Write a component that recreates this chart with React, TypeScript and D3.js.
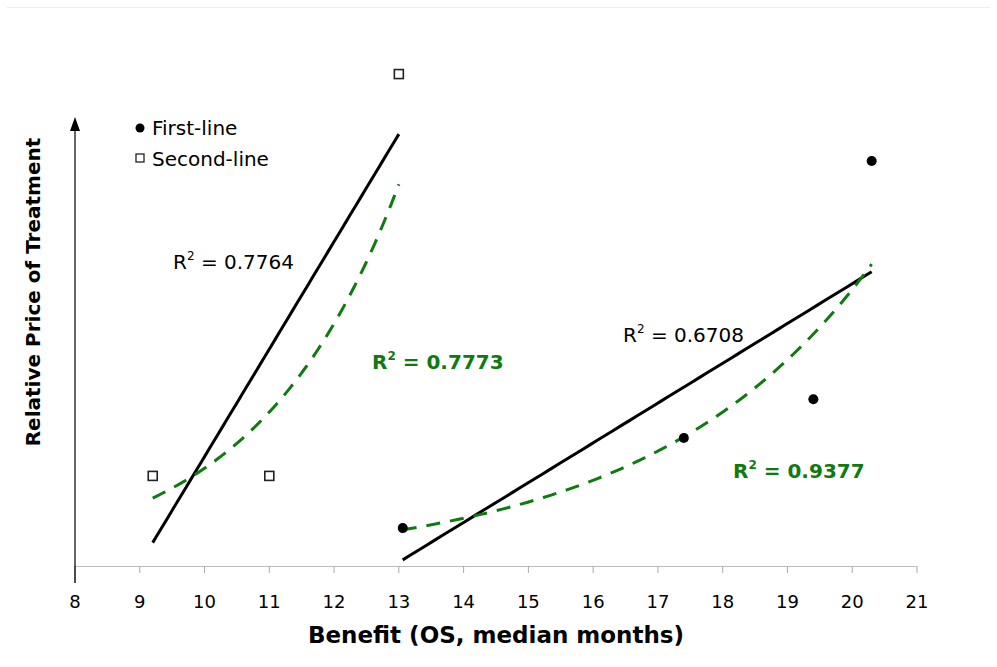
import React from 'react';
import * as d3 from 'd3';

// months of median OS benefit and relative price (arbitrary units)
const firstLineX = [13.06, 17.4, 19.4, 20.3];
const firstLineY = [8.5, 28.7, 37.4, 90.8];
const secondLineX = [9.2, 11.0, 13.0];
const secondLineY = [20.2, 20.2, 110.3];
const xTicks = [8, 9, 10, 11, 12, 13, 14, 15, 16, 17, 18, 19, 20, 21];
const r2Labels = ['0.7764', '0.6708', '0.7773', '0.9377'];

const W = 997, H = 667;
const green = '#0f7a0f';
const font = '"DejaVu Sans", Verdana, sans-serif';

const x = d3.scaleLinear().domain([8, 21]).range([75, 917]);
const y = d3.scaleLinear().domain([0, 100]).range([566, 120]);

// least squares, like the spreadsheet trendlines
function linFit(xs: number[], ys: number[]) {
	const mx = d3.mean(xs)!, my = d3.mean(ys)!;
	let sxy = 0, sxx = 0;
	xs.forEach((v, i) => {
		sxy += (v - mx) * (ys[i] - my);
		sxx += (v - mx) * (v - mx);
	});
	const b = sxy / sxx;
	return (t: number) => my + b * (t - mx);
}
function expFit(xs: number[], ys: number[]) {
	const f = linFit(xs, ys.map(Math.log));
	return (t: number) => Math.exp(f(t));
}

const line = d3.line<[number, number]>().x(d => x(d[0])).y(d => y(d[1]));

function trend(xs: number[], f: (t: number) => number) {
	const [a, b] = d3.extent(xs) as [number, number];
	const pts: [number, number][] = [];
	for (let i = 0; i <= 60; i++) {
		const t = a + ((b - a) * i) / 60;
		pts.push([t, f(t)]);
	}
	return line(pts) || '';
}

const R2 = (props: { x: number; y: number; v: string; bold?: boolean }) => (
	<text
		x={props.x}
		y={props.y}
		fontFamily={font}
		fontSize={20}
		fontWeight={props.bold ? 'bold' : 'normal'}
		fill={props.bold ? green : '#000'}
	>
		R<tspan dy={-9} fontSize={12}>2</tspan>
		<tspan dy={9}>{' = ' + props.v}</tspan>
	</text>
);

const App = () => {
	const linSecond = linFit(secondLineX, secondLineY);
	const expSecond = expFit(secondLineX, secondLineY);
	const linFirst = linFit(firstLineX, firstLineY);
	const expFirst = expFit(firstLineX, firstLineY);

	return (
		<svg width={W} height={H} style={{ position: 'absolute', left: 0, top: 0 }}>
			<rect width={W} height={H} fill="#fff" />
			<line x1={7} x2={990} y1={7.5} y2={7.5} stroke="#eee" />

			{/* x axis */}
			<line x1={x(8)} x2={x(21)} y1={566.5} y2={566.5} stroke="#bbb" strokeWidth={1} />
			{xTicks.map(t => (
				<g key={t}>
					<line x1={x(t)} x2={x(t)} y1={566} y2={t === 8 ? 583 : 573} stroke={t === 8 ? '#333' : '#aaa'} />
					<text x={x(t)} y={608} textAnchor="middle" fontFamily={font} fontSize={18}>
						{t}
					</text>
				</g>
			))}
			{/* y axis with arrow */}
			<line x1={x(8)} x2={x(8)} y1={583} y2={128} stroke="#333" strokeWidth={1.5} />
			<path d={`M${x(8)},117 L${x(8) - 5},131 L${x(8) + 5},131 Z`} fill="#000" />

			<text x={496} y={643} textAnchor="middle" fontFamily={font} fontSize={23} fontWeight="bold">
				Benefit (OS, median months)
			</text>
			<text
				transform="translate(40,292) rotate(-90)"
				textAnchor="middle"
				fontFamily={font}
				fontSize={20}
				fontWeight="bold"
			>
				Relative Price of Treatment
			</text>

			{/* trendlines */}
			<path d={trend(secondLineX, linSecond)} fill="none" stroke="#000" strokeWidth={3} />
			<path d={trend(firstLineX, linFirst)} fill="none" stroke="#000" strokeWidth={3} />
			<path d={trend(secondLineX, expSecond)} fill="none" stroke={green} strokeWidth={3} strokeDasharray="14 10" />
			<path d={trend(firstLineX, expFirst)} fill="none" stroke={green} strokeWidth={3} strokeDasharray="14 10" />

			{/* points */}
			{secondLineX.map((v, i) => (
				<rect key={i} x={x(v) - 4.5} y={y(secondLineY[i]) - 4.5} width={9} height={9} fill="#fff" stroke="#222" strokeWidth={1.6} />
			))}
			{firstLineX.map((v, i) => (
				<circle key={i} cx={x(v)} cy={y(firstLineY[i])} r={5} fill="#000" />
			))}

			{/* legend */}
			<circle cx={140} cy={128} r={4.5} fill="#000" />
			<text x={152} y={135} fontFamily={font} fontSize={20}>First-line</text>
			<rect x={136} y={154} width={8} height={8} fill="#fff" stroke="#222" strokeWidth={1.3} />
			<text x={152} y={166} fontFamily={font} fontSize={20}>Second-line</text>

			<R2 x={173} y={269} v={r2Labels[0]} />
			<R2 x={623} y={342} v={r2Labels[1]} />
			<R2 x={372} y={369} v={r2Labels[2]} bold />
			<R2 x={733} y={478} v={r2Labels[3]} bold />
		</svg>
	);
};

export default App;
